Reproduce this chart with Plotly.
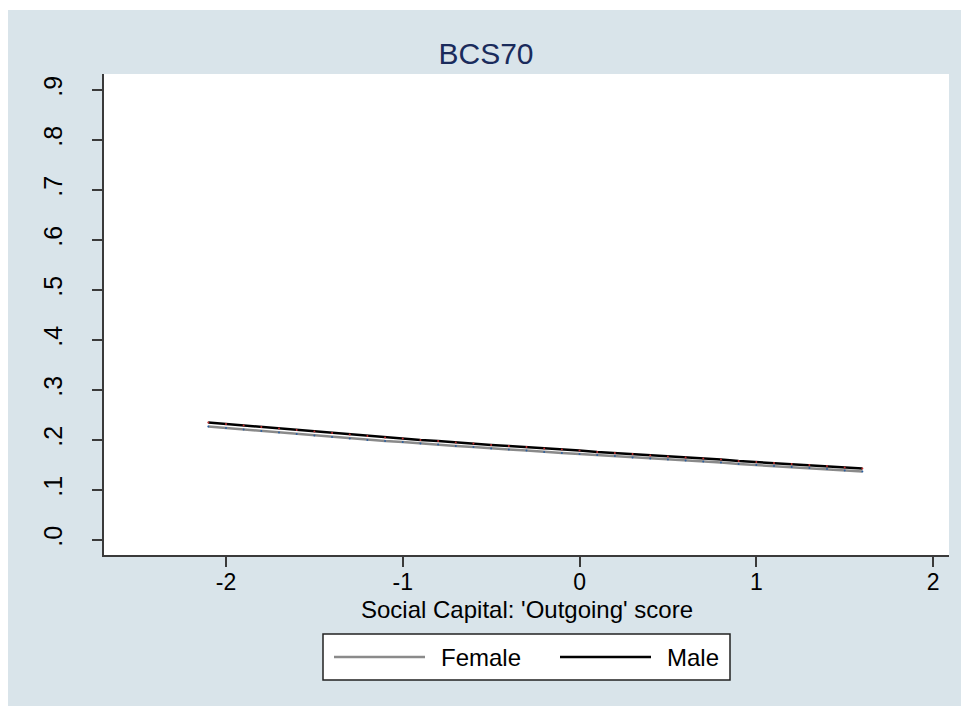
import plotly.graph_objects as go

# ---- data ----
x_vals = [-2.1, -2.0, -1.9, -1.8, -1.7, -1.6, -1.5, -1.4, -1.3, -1.2, -1.1, -1.0,
          -0.9, -0.8, -0.7, -0.6, -0.5, -0.4, -0.3, -0.2, -0.1, 0.0, 0.1, 0.2,
          0.3, 0.4, 0.5, 0.6, 0.7, 0.8, 0.9, 1.0, 1.1, 1.2, 1.3, 1.4, 1.5, 1.6]
male = [0.235, 0.232, 0.229, 0.226, 0.223, 0.220, 0.217, 0.214, 0.211, 0.208,
        0.205, 0.203, 0.200, 0.198, 0.195, 0.193, 0.190, 0.188, 0.186, 0.183,
        0.181, 0.179, 0.176, 0.174, 0.172, 0.169, 0.167, 0.165, 0.163, 0.161,
        0.158, 0.156, 0.154, 0.152, 0.150, 0.148, 0.145, 0.143]
female = [0.227, 0.224, 0.221, 0.218, 0.215, 0.212, 0.209, 0.206, 0.203, 0.200,
          0.198, 0.196, 0.193, 0.191, 0.188, 0.186, 0.183, 0.181, 0.179, 0.176,
          0.174, 0.172, 0.170, 0.168, 0.165, 0.163, 0.161, 0.159, 0.157, 0.155,
          0.152, 0.150, 0.148, 0.146, 0.144, 0.142, 0.139, 0.137]
x_ticks = [-2, -1, 0, 1, 2]
y_ticks = [0.0, 0.1, 0.2, 0.3, 0.4, 0.5, 0.6, 0.7, 0.8, 0.9]
y_ticklabels = [".0", ".1", ".2", ".3", ".4", ".5", ".6", ".7", ".8", ".9"]
y_grid = [0.1, 0.2, 0.3, 0.4, 0.5, 0.6, 0.7, 0.8]
series_names = ["Female", "Male"]
x_title = "Social Capital: 'Outgoing' score"

# ---- layout constants ----
W, H = 961, 706
ML, MR, MT, MB = 104, 12, 74, 151
PW, PH = W - ML - MR, H - MT - MB
BG = "#d9e4ea"
FONT = "Liberation Sans, Arial, sans-serif"
AXC = "#3a3a3a"


def px2x(px):
    return (px - ML) / PW


def px2y(py):
    return (H - MB - py) / PH


fig = go.Figure()
fig.add_trace(go.Scatter(x=x_vals, y=female, name=series_names[0], mode="lines+markers",
                         line=dict(color="#8a8a8a", width=2.5),
                         marker=dict(size=2, color="#2a5fa0"),
                         xaxis="x", yaxis="y2", showlegend=False))
fig.add_trace(go.Scatter(x=x_vals, y=male, name=series_names[1], mode="lines+markers",
                         line=dict(color="#000000", width=2.5),
                         marker=dict(size=2, color="#c03030"),
                         xaxis="x", yaxis="y2", showlegend=False))

yrange = [-0.03, 0.932]
fig.update_layout(
    width=W, height=H,
    margin=dict(l=ML, r=MR, t=MT, b=MB, pad=0),
    paper_bgcolor=BG, plot_bgcolor="white",
    font=dict(family=FONT, size=24, color="black"),
    title=dict(text="BCS70", x=486 / W, xref="container", xanchor="center",
               y=1 - 53 / H, yref="container", yanchor="middle",
               font=dict(size=30, color="#1a2b5c", family=FONT)),
    xaxis=dict(range=[-2.69, 2.09], tickvals=x_ticks, ticktext=[str(v) for v in x_ticks],
               showgrid=False, zeroline=False, showline=True, linecolor=AXC, linewidth=1.5,
               ticks="outside", ticklen=10, tickwidth=1.5, tickcolor=AXC,
               ticklabelstandoff=-4,
               tickfont=dict(size=23, color="black")),
    yaxis=dict(range=yrange, tickvals=y_grid, showticklabels=False, ticks="",
               showgrid=True, gridcolor="#e8f0f3", gridwidth=1.5, zeroline=False,
               showline=False),
    yaxis2=dict(range=yrange, overlaying="y", side="left", tickvals=y_ticks,
                ticktext=y_ticklabels, tickangle=-90, showgrid=False, zeroline=False,
                showline=True, linecolor=AXC, linewidth=1.5,
                ticks="outside", ticklen=10, tickwidth=1.5, tickcolor=AXC,
                ticklabelstandoff=20, tickfont=dict(size=25, color="black")),
)

# x axis title
fig.add_annotation(text=x_title, xref="paper", yref="paper", x=px2x(527), y=px2y(609),
                   xanchor="center", yanchor="middle", showarrow=False,
                   font=dict(size=24, color="black"))

# white outer border strips (top and left)
fig.add_shape(type="rect", xref="paper", yref="paper", x0=px2x(0), x1=px2x(W),
              y0=px2y(10), y1=px2y(0), fillcolor="white", line=dict(width=0), layer="below")
fig.add_shape(type="rect", xref="paper", yref="paper", x0=px2x(0), x1=px2x(8),
              y0=px2y(H), y1=px2y(0), fillcolor="white", line=dict(width=0), layer="below")

# legend box
fig.add_shape(type="rect", xref="paper", yref="paper", x0=px2x(323), x1=px2x(730),
              y0=px2y(680), y1=px2y(634), fillcolor="white",
              line=dict(color="#222222", width=1.5), layer="above")
ly = px2y(657)
fig.add_shape(type="line", xref="paper", yref="paper", x0=px2x(334), x1=px2x(425),
              y0=ly, y1=ly, line=dict(color="#8a8a8a", width=2.5), layer="above")
fig.add_shape(type="line", xref="paper", yref="paper", x0=px2x(560), x1=px2x(651),
              y0=ly, y1=ly, line=dict(color="#000000", width=2.5), layer="above")
fig.add_annotation(text=series_names[0], xref="paper", yref="paper", x=px2x(439), y=ly,
                   xanchor="left", yanchor="middle", showarrow=False,
                   font=dict(size=24, color="black"))
fig.add_annotation(text=series_names[1], xref="paper", yref="paper", x=px2x(665), y=ly,
                   xanchor="left", yanchor="middle", showarrow=False,
                   font=dict(size=24, color="black"))

fig.write_html("out.html")
